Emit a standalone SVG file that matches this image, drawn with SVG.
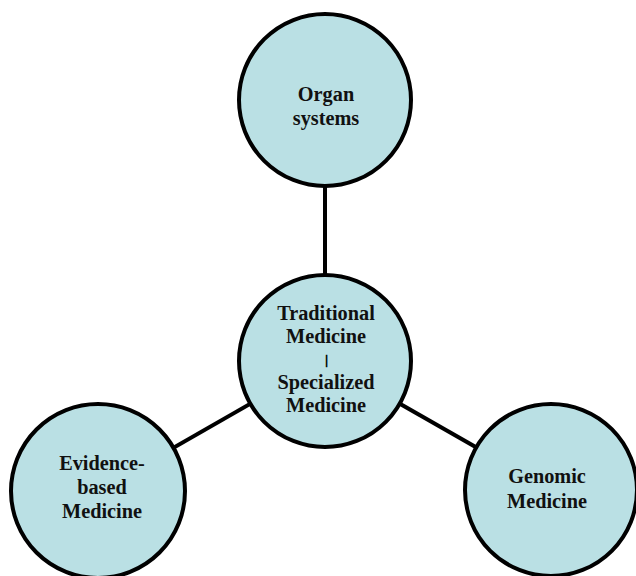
<svg xmlns="http://www.w3.org/2000/svg" width="636" height="576" viewBox="0 0 636 576">
<style>
.node{fill:#bae0e4;stroke:#000;stroke-width:4}
.conn{stroke:#000;stroke-width:4;fill:none}
.t{font-family:"Liberation Serif","Times New Roman",serif;font-weight:bold;font-size:20.3px;fill:#111;text-anchor:middle}
</style>
<rect width="636" height="576" fill="#fff"/>
<g id="connectors">
<line class="conn" x1="325" y1="100" x2="325" y2="361"/>
<line class="conn" x1="325" y1="361" x2="98" y2="491"/>
<line class="conn" x1="325" y1="361" x2="551" y2="490"/>
</g>
<g id="organ-systems">
<circle class="node" cx="325" cy="100" r="86"/>
<text class="t" x="326" y="101">Organ</text>
<text class="t" x="326" y="125">systems</text>
</g>
<g id="traditional">
<circle class="node" cx="325" cy="361" r="86"/>
<text class="t" x="326" y="320">Traditional</text>
<text class="t" x="326" y="343">Medicine</text>
<text class="t" x="326.5" y="364" style="font-size:12px;fill:#000;stroke:#000;stroke-width:0.6">|</text>
<text class="t" x="326" y="389">Specialized</text>
<text class="t" x="326" y="412">Medicine</text>
</g>
<g id="evidence">
<circle class="node" cx="98" cy="491" r="87"/>
<text class="t" x="102" y="470">Evidence-</text>
<text class="t" x="102" y="494">based</text>
<text class="t" x="102" y="518">Medicine</text>
</g>
<g id="genomic">
<circle class="node" cx="551" cy="490" r="86"/>
<text class="t" x="547" y="483">Genomic</text>
<text class="t" x="547" y="508">Medicine</text>
</g>
</svg>
